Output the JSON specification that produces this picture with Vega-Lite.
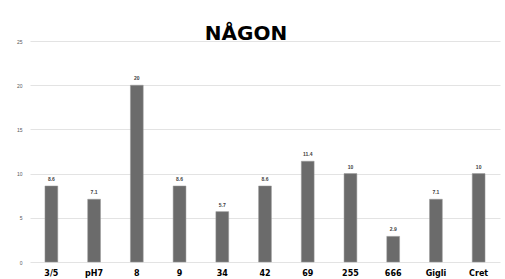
{
  "$schema": "https://vega.github.io/schema/vega-lite/v6.json",
  "autosize": "none",
  "width": 470,
  "height": 221,
  "padding": {"left": 30, "top": 41, "right": 5, "bottom": 17},
  "background": "white",
  "title": {
    "text": "NÅGON",
    "font": "DejaVu Sans",
    "fontSize": 20,
    "fontWeight": "bold",
    "color": "#000000",
    "anchor": "middle",
    "dx": -19,
    "baseline": "alphabetic",
    "offset": -21
  },
  "data": {
    "values": [
      {"cat": "3/5", "v": 8.6},
      {"cat": "pH7", "v": 7.1},
      {"cat": "8", "v": 20},
      {"cat": "9", "v": 8.6},
      {"cat": "34", "v": 5.7},
      {"cat": "42", "v": 8.6},
      {"cat": "69", "v": 11.4},
      {"cat": "255", "v": 10},
      {"cat": "666", "v": 2.9},
      {"cat": "Gigli", "v": 7.1},
      {"cat": "Cret", "v": 10}
    ]
  },
  "config": {
    "view": {"stroke": null},
    "font": "Liberation Sans"
  },
  "encoding": {
    "x": {
      "field": "cat",
      "type": "nominal",
      "sort": null,
      "scale": {"paddingInner": 0.7, "paddingOuter": 0.35},
      "axis": {
        "title": null,
        "labelAngle": 0,
        "domain": false,
        "ticks": false,
        "labelFont": "DejaVu Sans",
        "labelFontWeight": "bold",
        "labelFontSize": 8,
        "labelColor": "#000000",
        "labelPadding": 7
      }
    },
    "y": {
      "field": "v",
      "type": "quantitative",
      "scale": {"domain": [0, 25]},
      "axis": {
        "title": null,
        "values": [0, 5, 10, 15, 20, 25],
        "domain": false,
        "ticks": false,
        "gridColor": "#e3e3e3",
        "gridWidth": 1,
        "labelFontSize": 5,
        "labelColor": "#595959",
        "labelPadding": 8
      }
    }
  },
  "layer": [
    {"mark": {"type": "bar", "color": "#6b6b6b", "stroke": "#9a9a9a", "strokeWidth": 0.5}},
    {
      "mark": {"type": "text", "dy": -7, "fontSize": 5, "fontWeight": "bold", "color": "#404040", "baseline": "middle"},
      "encoding": {"text": {"field": "v", "type": "quantitative"}}
    }
  ]
}
